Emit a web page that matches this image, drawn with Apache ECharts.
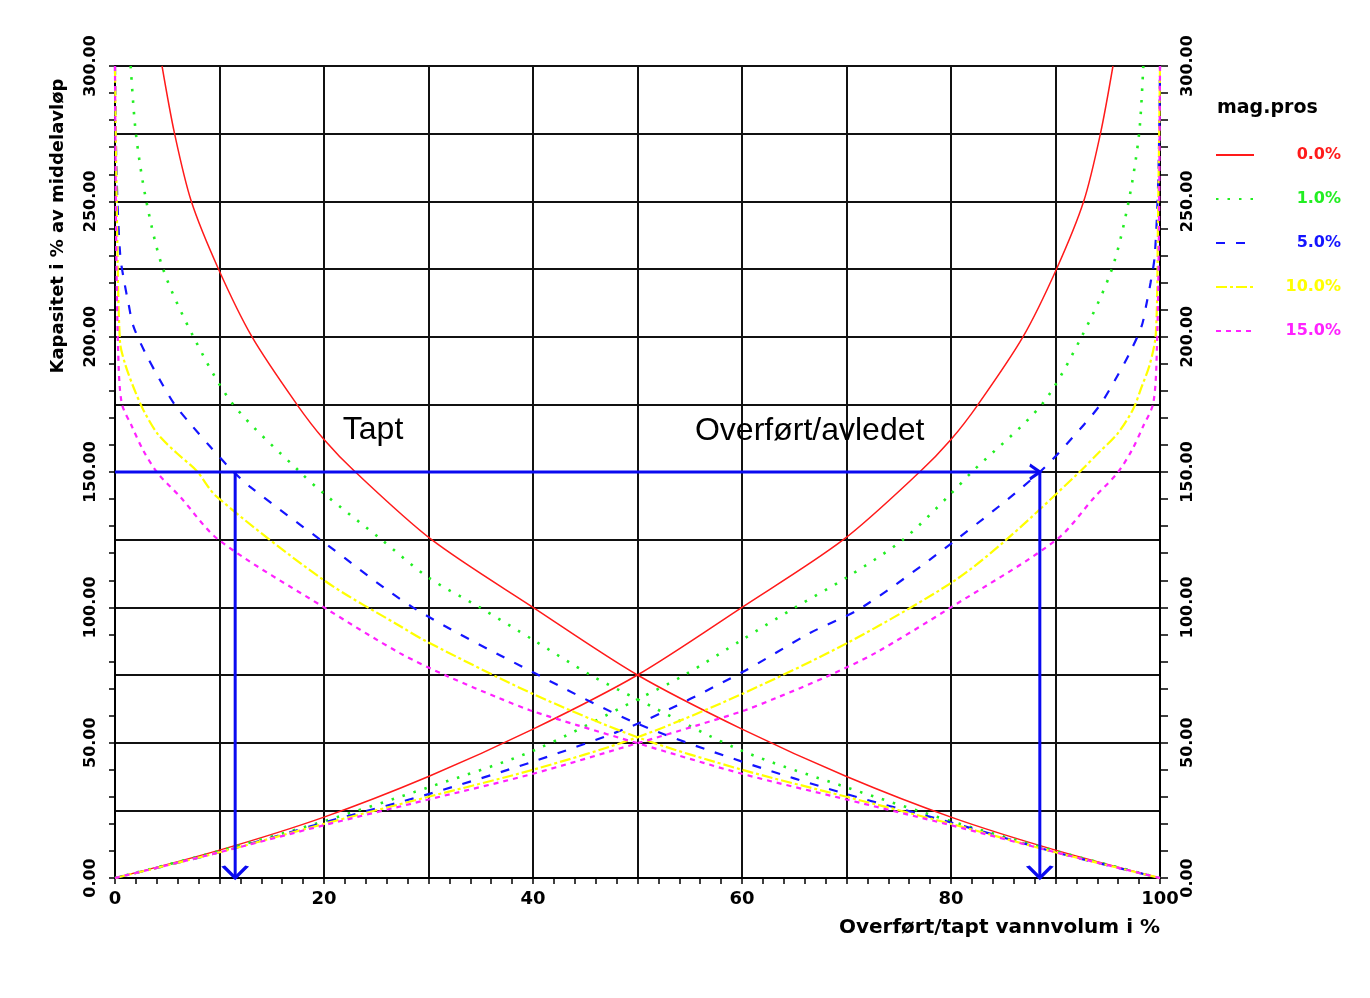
<!DOCTYPE html>
<html><head><meta charset="utf-8">
<script src="https://cdn.jsdelivr.net/npm/echarts@6/dist/echarts.min.js"></script>
<style>html,body{margin:0;padding:0;background:#fff}#c{width:1370px;height:998px}</style>
</head><body><div id="c"></div>
<script>
// ---- data ----
const legendLabels = ['0.0%', '1.0%', '5.0%', '10.0%', '15.0%'];
const legendTitle = 'mag.pros';
const xAxisTitle = 'Overført/tapt vannvolum i %';
const yAxisTitle = 'Kapasitet i % av middelavløp';

// "Tapt" curves (descending)
const taptRed = [[4.5,300],[5.7,275],[7.3,250],[9.9,225],[13.1,200],[17.4,175],[20,162],[23,150],[30.3,125],[40,100],[50,75],[60,55],[70,37.5],[80,22.5],[90,10.3],[100,0]];
const taptGreen = [[1.5,300],[2,275],[3,250],[4.6,225],[7.5,200],[11.3,175],[17.7,150],[20,142],[25.5,125],[30,111],[34.9,100],[40,88],[45.5,75],[50,66],[60,47],[70,33.5],[80,21],[90,10],[100,0]];
const taptBlue = [[0,300],[0.15,260],[0.5,230],[0.9,220],[1.3,212],[1.75,204],[2.9,194],[4.3,184],[5.7,175],[7.3,167.4],[9.1,159.4],[11,151.4],[12.9,144.6],[20,124],[28.5,100],[40,76],[50,57],[60,43],[70,31],[80,20.5],[90,9.5],[100,0]];
const taptYellow = [[0,300],[0.2,240],[0.48,198],[0.96,190],[1.75,181.5],[2.7,173],[4.1,164],[5.9,157],[7.8,150.5],[9.7,141],[20,110],[27.3,93],[30,87],[40,68],[50,52],[60,40],[70,30],[80,20],[90,9.5],[100,0]];
const taptMagenta = [[0,300],[0.1,240],[0.3,195],[0.64,175.5],[1.6,167],[2.7,158],[4.1,149.5],[6.2,141],[9.9,125],[20,100],[27.3,83],[31.9,74.4],[36.8,66.4],[39.7,62],[44.2,56.5],[50,49.8],[60,38.5],[70,29],[80,19.5],[90,9.5],[100,0]];

// "Overført/avledet" curves (ascending)
const overfRed = [[0,0],[10,10.3],[20,22.5],[30,37.5],[40,55],[50,75],[60,100],[69.7,125],[77,150],[80,162],[82.6,175],[86.9,200],[90.1,225],[92.7,250],[94.3,275],[95.5,300]];
const overfGreen = [[0,0],[10,10],[20,21],[30,33.5],[40,47],[50,66],[54.5,75],[60,88],[65.1,100],[70,111],[75.4,125],[80,142],[82,150],[88.7,175],[92.5,200],[95.4,225],[97,250],[98,275],[98.4,300]];
const overfBlue = [[0,0],[10,9.5],[20,20.5],[30,31],[40,43],[50,57],[60,76],[66.5,90.5],[71.5,100],[80.5,125],[88.5,150],[92.7,167.4],[94.3,175],[95.7,184],[97.1,194],[98.25,204],[98.7,212],[99.1,220],[99.5,230],[99.85,260],[100,300]];
const overfYellow = [[0,0],[10,9.5],[20,20],[30,30],[40,40],[50,52],[60,68],[70.3,87.3],[80.2,109.5],[85.3,125],[92.3,150],[94.1,157],[95.9,164],[97.4,173],[98.25,181.5],[99.04,190],[99.6,201],[99.8,240],[100,300]];
const overfMagenta = [[0,0],[10,9.5],[20,19.5],[30,29],[40,38.5],[50,49.8],[55.8,56.5],[60.3,62],[63.2,66.4],[68.1,74.4],[72.7,83],[80,100],[90.1,125],[93.8,141],[95.9,149.5],[97.3,158],[98.4,167],[99.36,175.5],[99.7,195],[99.9,240],[100,300]];

// blue arrows
const arrowHoriz = [[0,150],[88.5,150]];
const arrowLeftDown = [[11.5,150],[11.5,0]];
const arrowRightDown = [[88.5,150],[88.5,0]];

// annotations
const annotations = [{name:'Tapt', value:[21.8,165.5]}, {name:'Overført/avledet', value:[55.5,165]}];

// ---- styles ----
const colors = ['#ff1a1a', '#22ee22', '#1414ff', '#ffff00', '#ff22ff'];
const lineStyles = [
  {width:1.5, type:'solid'},
  {width:2.6, type:[2.5,9], cap:'butt'},
  {width:2.2, type:[9,11]},
  {width:2.2, type:[11,3,3,3]},
  {width:2.2, type:[5,5]}
];
const taptSets = [taptRed, taptGreen, taptBlue, taptYellow, taptMagenta];
const overfSets = [overfRed, overfGreen, overfBlue, overfYellow, overfMagenta];

const series = [];
for (let i = 0; i < 5; i++) {
  [taptSets[i], overfSets[i]].forEach(d => {
    series.push({
      type:'line', name:legendLabels[i], data:d, symbol:'none', smooth:0.3,
      xAxisIndex:0, yAxisIndex:0, z:3,
      color:colors[i],
      lineStyle:Object.assign({color:colors[i]}, lineStyles[i])
    });
  });
}
const arrowBlue = '#0a0af0';
const vArrow = 'path://M0,0L12,12L24,0';
const hArrow = 'path://M0,0L10,7L0,14';
function arrowSeries(d, sym, size, offset) {
  return {
    type:'line', name:'arrow', silent:true, z:5,
    data:[{value:d[0], symbol:'none'}, {value:d[1], symbol:sym, symbolSize:size, symbolOffset:offset}],
    showAllSymbol:true,
    lineStyle:{color:arrowBlue, width:3},
    itemStyle:{color:'rgba(0,0,0,0)', borderColor:arrowBlue, borderWidth:3},
    xAxisIndex:0, yAxisIndex:0
  };
}
series.push(arrowSeries(arrowHoriz, hArrow, [10,14], [-5,0]));
series.push(arrowSeries(arrowLeftDown, vArrow, [24,12], [0,-6]));
series.push(arrowSeries(arrowRightDown, vArrow, [24,12], [0,-6]));
series.push({
  type:'scatter', name:'annot', data:annotations, symbolSize:0, silent:true, z:6,
  label:{show:true, position:'right', distance:0, formatter:'{b}', fontSize:32,
    fontFamily:'Liberation Sans, Arial, sans-serif', color:'#000', opacity:1}
});

const axisFont = {fontFamily:'DejaVu Sans, sans-serif', fontWeight:'bold', color:'#000'};
const chart = echarts.init(document.getElementById('c'), null, {renderer:'canvas'});
chart.setOption({
  animation:false,
  backgroundColor:'#fff',
  grid:{left:115, right:210, top:66, bottom:120, containLabel:false},
  title:{text:legendTitle, left:1212, top:94, textStyle:Object.assign({fontSize:19}, axisFont)},
  legend:{
    orient:'vertical', left:1210, top:142, itemWidth:38, itemHeight:14, itemGap:28,
    selectedMode:false,
    itemStyle:{opacity:0},
    data:legendLabels.map((n,i)=>({name:n, textStyle:{color:colors[i]}})),
    formatter:n=>'{a|'+n+'}',
    textStyle:{fontSize:16, fontWeight:'bold', fontFamily:'DejaVu Sans, sans-serif',
      rich:{a:{width:82, align:'right', fontSize:16, fontWeight:'bold', fontFamily:'DejaVu Sans, sans-serif'}}}
  },
  xAxis:[
    {type:'value', min:0, max:100, interval:2, position:'bottom',
     axisLine:{show:true, onZero:false, lineStyle:{color:'#000', width:2}},
     axisTick:{show:true, length:6, lineStyle:{color:'#000', width:1.5}},
     axisLabel:Object.assign({fontSize:18, margin:12, formatter:v=>(v%20===0?String(v):'')}, axisFont),
     splitLine:{show:false}},
    {type:'value', min:0, max:100, interval:10, position:'bottom',
     axisLine:{show:false}, axisTick:{show:false}, axisLabel:{show:false},
     splitLine:{show:true, lineStyle:{color:'#111', width:2}}}
  ],
  yAxis:[
    {type:'value', min:0, max:300, interval:10, position:'left',
     axisLine:{show:true, onZero:false, lineStyle:{color:'#000', width:2}},
     axisTick:{show:true, length:6, lineStyle:{color:'#000', width:1.5}},
     axisLabel:Object.assign({fontSize:16, margin:16, rotate:90, formatter:v=>(v%50===0?v.toFixed(2):'')}, axisFont),
     splitLine:{show:false}},
    {type:'value', min:0, max:300, interval:25, position:'left',
     axisLine:{show:false}, axisTick:{show:false}, axisLabel:{show:false},
     splitLine:{show:true, lineStyle:{color:'#111', width:2}}},
    {type:'value', min:0, max:300, interval:10, position:'right',
     axisLine:{show:true, onZero:false, lineStyle:{color:'#000', width:2}},
     axisTick:{show:true, length:8, lineStyle:{color:'#000', width:1.5}},
     axisLabel:Object.assign({fontSize:16, margin:20, rotate:90, formatter:v=>(v%50===0?v.toFixed(2):'')}, axisFont),
     splitLine:{show:false}}
  ],
  graphic:[
    {type:'text', x:1160, y:928, style:{text:xAxisTitle, fontSize:20, fontWeight:'bold', fontFamily:'DejaVu Sans, sans-serif', align:'right', verticalAlign:'middle', fill:'#000'}},
    {type:'text', x:58, y:226, rotation:Math.PI/2, style:{text:yAxisTitle, fontSize:18, fontWeight:'bold', fontFamily:'DejaVu Sans, sans-serif', align:'center', verticalAlign:'middle', fill:'#000'}}
  ],
  series:series
});
</script>
</body></html>
